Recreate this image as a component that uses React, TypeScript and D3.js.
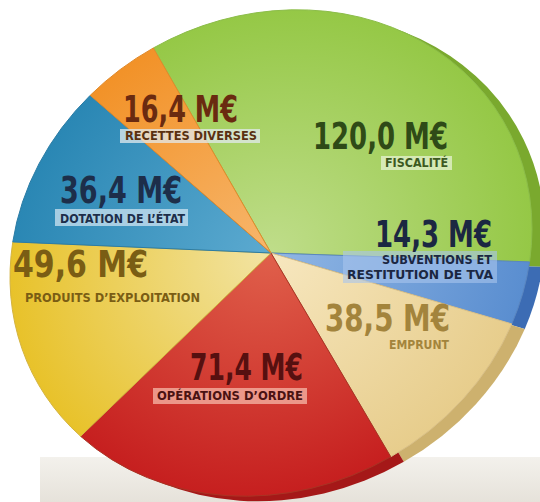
import React from "react";
import * as d3 from "d3";

// ---- data ----
const categories = [
  "FISCALITÉ",
  "SUBVENTIONS ET RESTITUTION DE TVA",
  "EMPRUNT",
  "OPÉRATIONS D’ORDRE",
  "PRODUITS D’EXPLOITATION",
  "DOTATION DE L’ÉTAT",
  "RECETTES DIVERSES",
];
const values = [120.0, 14.3, 38.5, 71.4, 49.6, 36.4, 16.4];
const labelLines = [
  ["FISCALITÉ"],
  ["SUBVENTIONS ET", "RESTITUTION DE TVA"],
  ["EMPRUNT"],
  ["OPÉRATIONS D’ORDRE"],
  ["PRODUITS D’EXPLOITATION"],
  ["DOTATION DE L’ÉTAT"],
  ["RECETTES DIVERSES"],
];
const unit = "M€";

// ---- styles ----
const topColors = [
  ["#bfdd8a", "#95c846"],
  ["#90b6e4", "#5a8ed0"],
  ["#f7e7bf", "#e7cd8c"],
  ["#e0604b", "#c61f1f"],
  ["#f2e4a4", "#e8c22a"],
  ["#5caad0", "#2a87b4"],
  ["#f7b66c", "#f29228"],
];
const sideColors = ["#7aa92e", "#3c6cb4", "#cdb16e", "#a51818", "#c9a420", "#1f6e96", "#cf7a20"];
const strokeColors = ["#8cbd4a", "#5a86c0", "#d9c089", "#a83424", "#d4b340", "#2b7ca5", "#e08a2c"];
const valueColors = ["#2f4a17", "#1b2742", "#a3843c", "#561010", "#7a5d14", "#1d2e4a", "#6a2a10"];
const subColors = ["#3d5a1f", "#1b2742", "#a3843c", "#4a1212", "#7a5d14", "#1d2e4a", "#5a3010"];

// label layout (screen px)
const valuePos = [
  { x: 313, y: 149, w: 135 },
  { x: 375, y: 247, w: 117 },
  { x: 325, y: 331, w: 125 },
  { x: 190, y: 380, w: 113 },
  { x: 13, y: 277, w: 135 },
  { x: 60, y: 203, w: 122 },
  { x: 123, y: 122, w: 115 },
];
const subPos = [
  [{ x: 385, y: 167, w: 63 }],
  [{ x: 382, y: 264, w: 110 }, { x: 347, y: 279, w: 146 }],
  [{ x: 389, y: 349, w: 60 }],
  [{ x: 157, y: 400, w: 146 }],
  [{ x: 25, y: 302, w: 175 }],
  [{ x: 60, y: 223, w: 125 }],
  [{ x: 125, y: 140, w: 132 }],
];
const boxes = [
  { x: 381, y: 156, w: 71, h: 14, fill: "#e6f1d2", op: 0.75 },
  { x: 343, y: 251, w: 154, h: 32, fill: "#a9c4ec", op: 0.6 },
  null,
  { x: 153, y: 388, w: 154, h: 16, fill: "#f6b8a8", op: 0.75 },
  null,
  { x: 55, y: 209, w: 133, h: 17, fill: "#cde3f0", op: 0.75 },
  { x: 120, y: 129, w: 140, h: 14, fill: "#e2e9ee", op: 0.75 },
];

const W = 540;
const H = 502;
const R = 250;
const cx = 271;
const cy = 253;
const startDeg = -26.8;

export default function App() {
  const pie = d3
    .pie<number>()
    .sort(null)
    .value((d) => d)
    .startAngle((startDeg * Math.PI) / 180)
    .endAngle((startDeg * Math.PI) / 180 + 2 * Math.PI);
  const arcs = pie(values);
  const arc = d3.arc<d3.PieArcDatum<number>>().innerRadius(0).outerRadius(R);
  const mat = `matrix(${261 / R},${-24.35 / R},0,${242 / R},${cx},${cy})`;
  const matSide = `matrix(${261 / R},${-24.35 / R},0,${242 / R},${cx + 13},${cy + 5})`;
  const fmt = (v: number) => d3.format(".1f")(v).replace(".", ",") + " " + unit;
  const font = "'DejaVu Sans Condensed', 'DejaVu Sans', sans-serif";

  return (
    <svg
      width={W}
      height={H}
      style={{ position: "fixed", left: 0, top: 0, background: "#ffffff" }}
    >
      <defs>
        {topColors.map((c, i) => (
          <radialGradient
            key={i}
            id={`g${i}`}
            gradientUnits="userSpaceOnUse"
            cx={0}
            cy={0}
            r={R}
          >
            <stop offset="0%" stopColor={c[0]} />
            <stop offset="100%" stopColor={c[1]} />
          </radialGradient>
        ))}
        <linearGradient id="floor" x1="0" y1="0" x2="0" y2="1">
          <stop offset="0%" stopColor="#f3f1ec" />
          <stop offset="100%" stopColor="#e6e2da" />
        </linearGradient>
      </defs>
      <rect x={0} y={0} width={W} height={H} fill="#ffffff" />
      <rect x={40} y={457} width={500} height={45} fill="url(#floor)" />
      <g transform={matSide}>
        {arcs.map((a, i) => (
          <path key={i} d={arc(a) || ""} fill={sideColors[i]} />
        ))}
      </g>
      <g transform={mat}>
        {arcs.map((a, i) => (
          <path
            key={i}
            d={arc(a) || ""}
            fill={`url(#g${i})`}
            stroke={strokeColors[i]}
            strokeWidth={1}
            vectorEffect="non-scaling-stroke"
          />
        ))}
      </g>
      {boxes.map((b, i) =>
        b ? (
          <rect key={i} x={b.x} y={b.y} width={b.w} height={b.h} fill={b.fill} opacity={b.op} />
        ) : null
      )}
      {values.map((v, i) => (
        <g key={categories[i]}>
          <text
            x={valuePos[i].x}
            y={valuePos[i].y}
            textLength={valuePos[i].w}
            lengthAdjust="spacingAndGlyphs"
            fontFamily={font}
            fontWeight="bold"
            fontSize={37}
            fill={valueColors[i]}
          >
            {fmt(v)}
          </text>
          {labelLines[i].map((line, j) => (
            <text
              key={j}
              x={subPos[i][j].x}
              y={subPos[i][j].y}
              textLength={subPos[i][j].w}
              lengthAdjust="spacingAndGlyphs"
              fontFamily={font}
              fontWeight="bold"
              fontSize={13}
              fill={subColors[i]}
            >
              {line}
            </text>
          ))}
        </g>
      ))}
    </svg>
  );
}
